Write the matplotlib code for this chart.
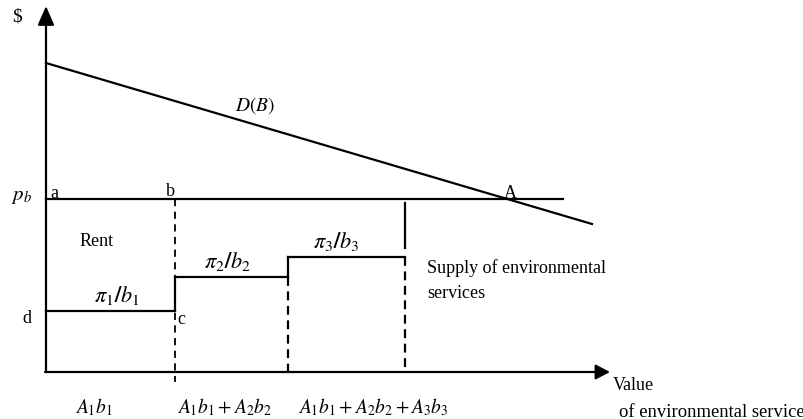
import matplotlib

matplotlib.use('Agg')
import matplotlib.pyplot as plt

# Ступенчатое предложение экологических услуг (в условных единицах)
breaks = [0.0, 12.9, 24.2, 35.9]      # A1b1, A1b1+A2b2, A1b1+A2b2+A3b3
levels = [6.1, 9.5, 11.5]             # pi_i / b_i
p_b = 17.3                            # цена p_b
pb_end = 51.7
demand_x = [0.0, 54.6]                # кривая спроса D(B)
demand_y = [30.9, 14.8]
last_riser = [16.9, 12.4]             # сплошной участок над третьей ступенью

step_labels = [r'$\pi_1\mathbf{/}b_1$', r'$\pi_2\mathbf{/}b_2$', r'$\pi_3\mathbf{/}b_3$']
step_label_x = [7.1, 18.1, 29.0]
x_labels = [r'$A_1b_1$', r'$A_1b_1 + A_2b_2$', r'$A_1b_1 + A_2b_2 + A_3b_3$']
x_label_x = [4.8, 17.9, 32.7]

plt.rcParams['font.family'] = ['Liberation Serif', 'DejaVu Serif']
plt.rcParams['mathtext.fontset'] = 'stix'

fig = plt.figure(figsize=(8.04, 4.19), dpi=100)
ax = fig.add_axes([0, 0, 1, 1])
ax.set_xlim(-4.6, 75.8)
ax.set_ylim(-4.7, 37.2)
ax.axis('off')

lw = 1.6
dash = (0, (4, 2.5))

# Оси со стрелками
ax.annotate('', xy=(0, 36.6), xytext=(0, 0),
            arrowprops=dict(arrowstyle='-|>,head_length=1.15,head_width=0.5', lw=lw, color='k',
                            shrinkA=0, shrinkB=0))
ax.annotate('', xy=(56.4, 0), xytext=(-0.1, 0),
            arrowprops=dict(arrowstyle='-|>,head_length=0.86,head_width=0.45', lw=lw, color='k',
                            shrinkA=0, shrinkB=0))

# Спрос и цена
ax.plot(demand_x, demand_y, color='k', lw=lw)
ax.plot([0, pb_end], [p_b, p_b], color='k', lw=lw)

# Ступени предложения
for i in range(3):
    ax.plot([breaks[i], breaks[i + 1]], [levels[i], levels[i]], color='k', lw=lw)
    ax.text(step_label_x[i], levels[i] + 1.6, step_labels[i],
            ha='center', va='center', fontsize=16)
    ax.text(x_label_x[i], -3.5, x_labels[i], ha='center', va='center', fontsize=14)

# Вертикальные переходы
ax.plot([breaks[1], breaks[1]], [p_b, -1.0], color='k', lw=1.3, linestyle=(0, (4, 3)))
ax.plot([breaks[1], breaks[1]], [levels[0], levels[1]], color='k', lw=lw)
ax.plot([breaks[2], breaks[2]], [levels[1], levels[2]], color='k', lw=lw)
ax.plot([breaks[2], breaks[2]], [levels[1], 0], color='k', lw=lw, linestyle=dash)
ax.plot([breaks[3], breaks[3]], [levels[2], 0], color='k', lw=lw, linestyle=dash)
ax.plot([breaks[3], breaks[3]], last_riser, color='k', lw=lw)

# Подписи
fs = 13
ax.text(-2.9, 35.5, '$', ha='center', va='center', fontsize=14)
ax.text(20.9, 26.6, r'$D(B)$', ha='center', va='center', fontsize=14)
ax.text(-2.4, 17.6, r'$p_b$', ha='center', va='center', fontsize=15)
ax.text(0.8, 17.9, 'a', ha='center', va='center', fontsize=fs)
ax.text(12.4, 18.1, 'b', ha='center', va='center', fontsize=fs)
ax.text(46.4, 17.9, 'A', ha='center', va='center', fontsize=fs)
ax.text(5.1, 13.1, 'Rent', ha='center', va='center', fontsize=fs)
ax.text(-1.9, 5.4, 'd', ha='center', va='center', fontsize=fs)
ax.text(13.5, 5.3, 'c', ha='center', va='center', fontsize=fs)
ax.text(38.1, 10.4, 'Supply of environmental', ha='left', va='center', fontsize=fs)
ax.text(38.1, 7.9, 'services', ha='left', va='center', fontsize=fs)
ax.text(56.7, -1.3, 'Value', ha='left', va='center', fontsize=fs)
ax.text(57.3, -4.0, 'of environmental service', ha='left', va='center', fontsize=13.4)

fig.savefig('out.png', dpi=100)
plt.close('all')
